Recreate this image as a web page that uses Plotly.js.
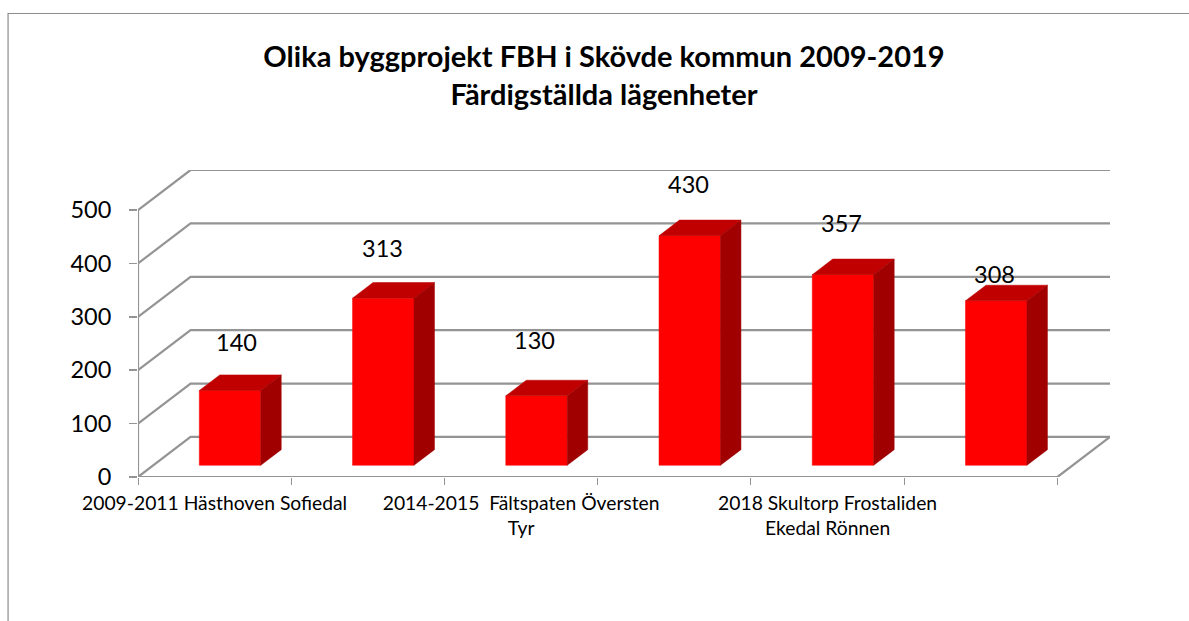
<!DOCTYPE html>
<html>
<head>
<meta charset="utf-8">
<script src="https://cdn.plot.ly/plotly-3.0.1.min.js"></script>
<style>html,body{margin:0;padding:0;background:#fff;overflow:hidden}#chart{width:1189px;height:621px}</style>
</head>
<body>
<div id="chart"></div>
<script>
// ---- data ----
const categories = [
  "2009-2011 Hästhoven Sofiedal",
  "",
  "2014-2015 \u00a0Fältspaten Översten<br>Tyr",
  "",
  "2018 Skultorp Frostaliden<br>Ekedal Rönnen",
  ""
];
const values = [140, 313, 130, 430, 357, 308];
const valueTicks = [0, 100, 200, 300, 400, 500];
const titleLines = ["Olika byggprojekt FBH i Skövde kommun 2009-2019", "Färdigställda lägenheter"];

// ---- drawing constants ----
const W = 1189, H = 621;
const plot = {l: 137.5, r: 1110, t: 170, b: 477};
const wallDX = 0.343, wallDY = 75;        // depth of the floor in axis units
const barW = 0.401, barDepth = 0.39, barInset = 0.293;   // bar geometry as share of category / depth
const labelXShift = [6, -1, -2, -1, -1, -2];
const labelYShift = [49, 50, 56, 52, 52, 27];
const FONT = "Lato, Carlito, sans-serif";
const GRID = "#949494";

// ---- axes-space geometry ----
const n = values.length, xMax = n + wallDX, yMax = valueTicks[valueTicks.length - 1] + wallDY;
const traces = [];
function line(x, y) {
  traces.push({x, y, mode: "lines", type: "scatter", cliponaxis: false, hoverinfo: "skip",
    line: {color: GRID, width: 2.2, simplify: false}, showlegend: false});
}
valueTicks.forEach(v => line([0, wallDX, xMax], [v, v + wallDY, v + wallDY]));
line([0, 0], [0, valueTicks[valueTicks.length - 1]]);
line([0, n, xMax], [0, 0, wallDY]);

const faces = {front: {x: [], y: [], c: "#ff0000"}, top: {x: [], y: [], c: "#c00000"}, side: {x: [], y: [], c: "#a00000"}};
const ddx = wallDX * barDepth, ddy = wallDY * barDepth;
const fx = wallDX * barInset, fy = wallDY * barInset;
function poly(f, xs, ys) { f.x.push(...xs, xs[0], null); f.y.push(...ys, ys[0], null); }
values.forEach((v, i) => {
  const x0 = i + 0.5 - barW / 2 + fx, x1 = x0 + barW, y0 = fy, y1 = fy + v;
  poly(faces.front, [x0, x1, x1, x0], [y0, y0, y1, y1]);
  poly(faces.top, [x0, x1, x1 + ddx, x0 + ddx], [y1, y1, y1 + ddy, y1 + ddy]);
  poly(faces.side, [x1, x1 + ddx, x1 + ddx, x1], [y0, y0 + ddy, y1 + ddy, y1]);
});
Object.values(faces).forEach(f => traces.push({x: f.x, y: f.y, type: "scatter", mode: "lines", fill: "toself",
  fillcolor: f.c, line: {color: f.c, width: 0.5}, hoverinfo: "skip", showlegend: false, cliponaxis: false}));

const annotations = values.map((v, i) => ({
  x: i + 0.5 + fx, y: fy + v, xref: "x", yref: "y", text: String(v), showarrow: false,
  xanchor: "center", yanchor: "middle", xshift: labelXShift[i], yshift: labelYShift[i],
  font: {family: FONT, size: 23.5, color: "#000"}
}));

// frame of the chart area (only top and left edges fall in the picture)
const pw = plot.r - plot.l, ph = plot.b - plot.t;
const px = p => (p - plot.l) / pw, py = p => (plot.b - p) / ph;
const frame = {type: "path", xref: "paper", yref: "paper", layer: "below",
  path: `M ${px(7.5)} ${py(H + 2)} L ${px(7.5)} ${py(13.5)} L ${px(W + 2)} ${py(13.5)}`,
  line: {color: "#8c8c8c", width: 1.2}};

const layout = {
  width: W, height: H, showlegend: false, paper_bgcolor: "#fff", plot_bgcolor: "rgba(0,0,0,0)",
  margin: {l: plot.l, r: W - plot.r, t: plot.t, b: H - plot.b, pad: 0},
  font: {family: FONT, color: "#000"},
  title: {text: "<b>" + titleLines.join("<br>") + "</b>", x: 604 / W, xanchor: "center", xref: "container",
    y: 1 - 67 / H, yref: "container", yanchor: "top", font: {family: FONT, size: 29, color: "#000"}},
  xaxis: {range: [0, xMax], tickmode: "array", tickvals: categories.map((_, i) => i + 0.5), ticktext: categories,
    ticks: "", showgrid: false, zeroline: false, showline: false, tickangle: 0, ticklabelstandoff: 13,
    tickfont: {family: FONT, size: 19.3, color: "#000"},
    minor: {tickmode: "array", tickvals: categories.map((_, i) => i).concat(n), ticks: "outside", ticklen: 7, tickwidth: 1, tickcolor: GRID, showgrid: false}},
  yaxis: {range: [0, yMax], tickmode: "array", tickvals: valueTicks, ticks: "outside", ticklen: 8, tickwidth: 1.5, tickcolor: GRID,
    showgrid: false, zeroline: false, showline: false, ticklabelstandoff: 13,
    tickfont: {family: FONT, size: 23.5, color: "#000"}},
  annotations, shapes: [frame]
};
Plotly.newPlot("chart", traces, layout, {displayModeBar: false, staticPlot: true});
</script>
</body>
</html>
